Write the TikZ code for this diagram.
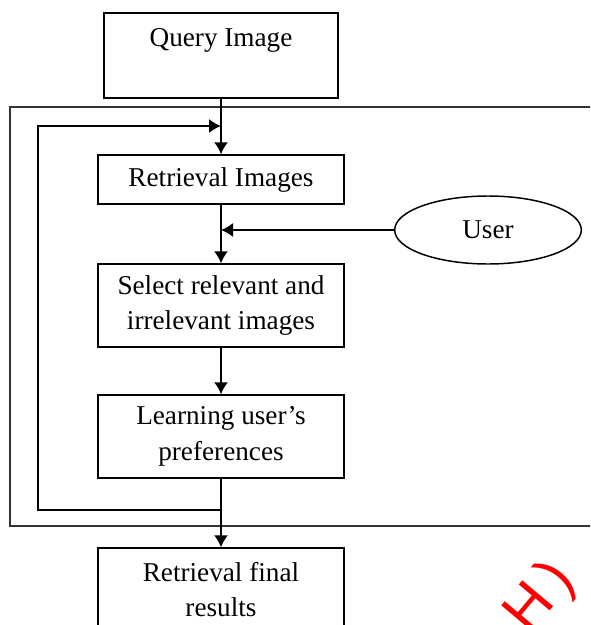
\documentclass[tikz,border=0pt]{standalone}
\usepackage{fontspec}
\setmainfont{Liberation Serif}
\newfontfamily\stampfont{Liberation Sans}
\usepackage{tikz}
\usetikzlibrary{positioning}
\usetikzlibrary{shapes.geometric}
\usetikzlibrary{arrows.meta}
\tikzstyle{box}=[draw,line width=1.1,align=center,minimum width=184.5pt,
                 font=\fontsize{20.4}{26.5}\selectfont]
\tikzstyle{flow}=[-{Latex[length=9,width=10.5]},line width=1.1]
\tikzstyle{link}=[line width=1.1]
\tikzstyle{frame}=[line width=1.1,draw=black!80]
\tikzstyle{stamp}=[red,font=\fontsize{44}{44}\stampfont,inner sep=0]

\begin{document}
\begin{tikzpicture}[x=0.75pt,y=-0.75pt]
  \useasboundingbox (0,0) rectangle (590,625);
  \clip (0,0) rectangle (590,625);
  
  % FRAME
  \draw[frame] (10,107) rectangle (640,526);
  
  % BOXES
  \node[box,minimum width=175.5pt,minimum height=63.75pt] (query) at (221,55.5) {Query Image\\ \mbox{}};
  \node[box,minimum height=36.75pt] (retr) at (221,179.5) {Retrieval Images};
  \node[box,minimum height=62.25pt] (select) at (221,305.5) {Select relevant and\\irrelevant images};
  \node[box,minimum height=62.25pt] (learn) at (221,436.5) {Learning user's\\preferences};
  \node[box,minimum height=62.25pt] (final) at (221,589.5) {Retrieval final\\results};
  \node[draw,ellipse,line width=1.1,inner sep=0,minimum width=140pt,minimum height=51pt,
        font=\fontsize{20.4}{26.5}\selectfont] (user) at (488,230) {User};
  \coordinate (loopB) at (221,510);
  \coordinate (loopT) at (221,126);
  
  % ARROWS
  \draw[flow] (query.south) -- (retr.north);
  \draw[flow] (retr.south) -- (select.north);
  \draw[flow] (user.west) -- (user.west -| retr.south);
  \draw[flow] (select.south) -- (learn.north);
  \draw[link] (learn.south) -- (loopB);
  \draw[flow] (loopB) -| (38,126) -- (loopT);
  \draw[flow] (loopB) -- (final.north);
  
  % WATERMARK
  \node[stamp,rotate=50] (stamp) at (541,598) {H\,)};
  
\end{tikzpicture}
\end{document}
